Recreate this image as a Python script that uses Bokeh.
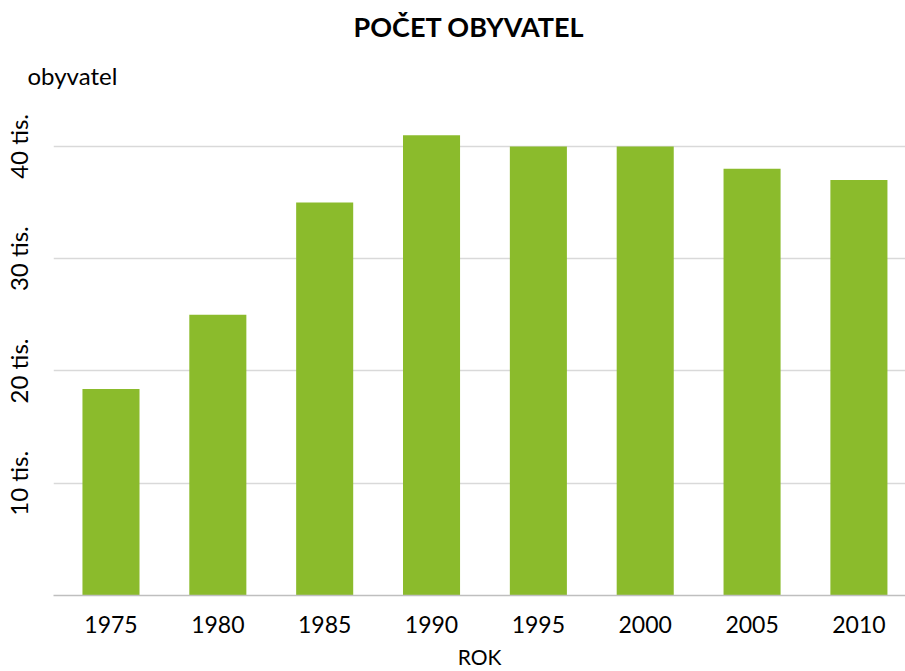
from bokeh.plotting import figure
from bokeh.models import Range1d, FixedTicker, Title
from bokeh.embed import file_html
from bokeh.resources import INLINE

years = [1975, 1980, 1985, 1990, 1995, 2000, 2005, 2010]
population = [18400, 25000, 35000, 41000, 40000, 40000, 38000, 37000]
y_ticks = [0, 10000, 20000, 30000, 40000]
y_tick_labels = ["", "10 tis.", "20 tis.", "30 tis.", "40 tis."]

FONT = "Lato"
BAR = "#8BBB2C"

p = figure(width=905, height=671, output_backend="svg", toolbar_location=None,
           x_range=Range1d(1972.31, 2012.18), y_range=Range1d(0, 44000),
           min_border_left=53, min_border_right=0, min_border_top=101, min_border_bottom=75)
p.outline_line_color = None
p.background_fill_color = "white"
p.border_fill_color = "white"

p.vbar(x=years, top=population, width=2.67, fill_color=BAR, line_color=None)

sub = Title(text="obyvatel", align="left", text_font=FONT, text_font_size="24px",
            text_font_style="normal", text_color="#000000", offset=-26, standoff=23)
p.add_layout(sub, "above")
main = Title(text="POČET OBYVATEL", align="left", text_font=FONT, text_font_size="27px",
             text_font_style="bold", text_color="#000000", standoff=9, offset=300)
p.add_layout(main, "above")

# y axis
ya = p.yaxis[0]
ya.ticker = FixedTicker(ticks=y_ticks)
ya.major_label_overrides = {t: l for t, l in zip(y_ticks, y_tick_labels)}
ya.major_label_orientation = "vertical"
ya.major_label_text_font = FONT
ya.major_label_text_font_size = "24px"
ya.major_label_text_color = "#000000"
ya.axis_line_color = None
ya.major_tick_line_color = None
ya.minor_tick_line_color = None
ya.major_label_standoff = 14

# x axis
xa = p.xaxis[0]
xa.ticker = FixedTicker(ticks=years)
xa.major_label_text_font = FONT
xa.major_label_text_font_size = "23px"
xa.major_label_text_color = "#000000"
xa.axis_line_color = "#BFBFBF"
xa.axis_line_width = 1.5
xa.major_tick_line_color = None
xa.minor_tick_line_color = None
xa.major_tick_out = 0
xa.major_label_standoff = 20
xa.axis_label = "ROK"
xa.axis_label_text_font = FONT
xa.axis_label_text_font_size = "21px"
xa.axis_label_text_font_style = "normal"
xa.axis_label_text_color = "#000000"
xa.axis_label_standoff = 8

p.xgrid.grid_line_color = None
p.ygrid.ticker = FixedTicker(ticks=y_ticks[1:])
p.ygrid.grid_line_color = "#D9D9D9"
p.ygrid.grid_line_width = 1.5

open("out.html", "w").write(file_html(p, INLINE))
